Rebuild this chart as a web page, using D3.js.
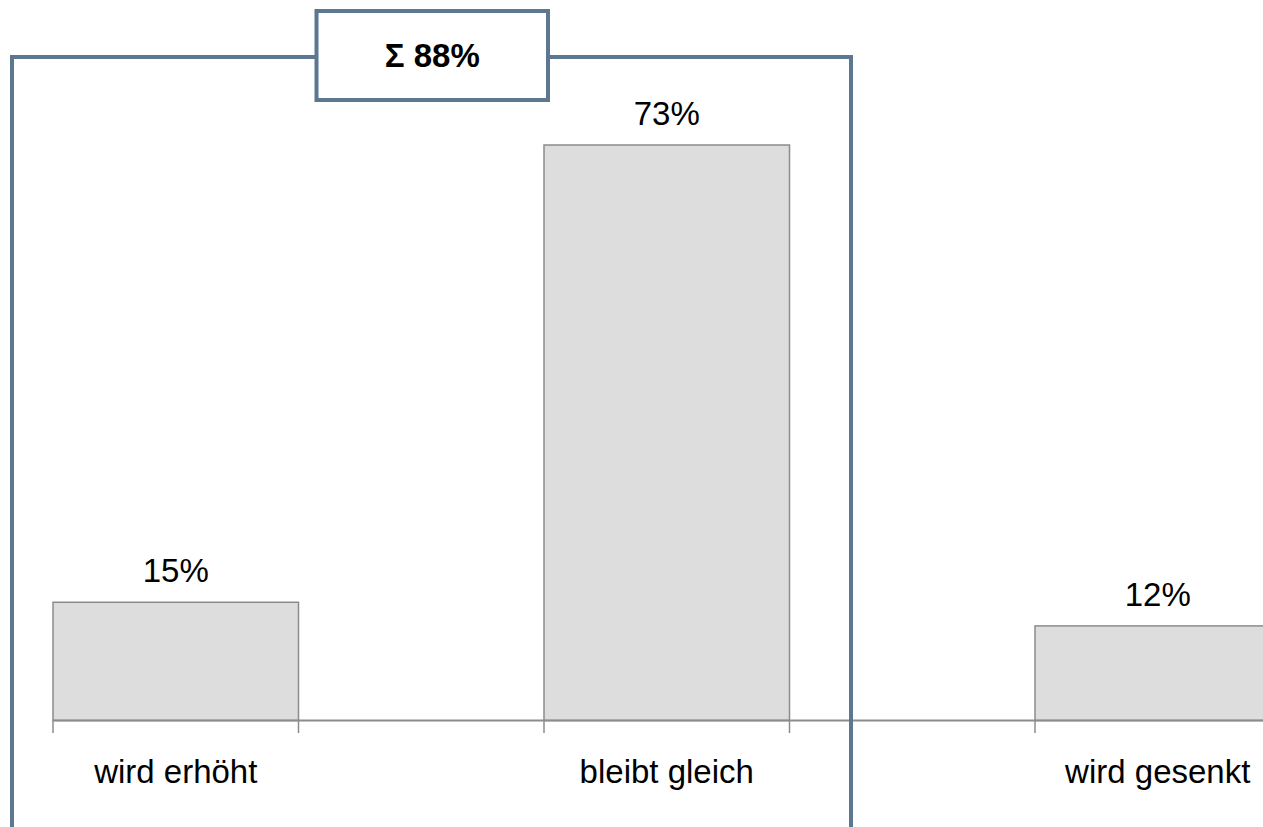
<!DOCTYPE html>
<html>
<head>
<meta charset="utf-8">
<script src="https://cdn.jsdelivr.net/npm/d3@7"></script>
<style>
  html, body { margin: 0; padding: 0; background: #fff; overflow: hidden; }
  svg { display: block; }
  text { font-family: "Liberation Sans", Arial, sans-serif; fill: #000; }
</style>
</head>
<body>
<svg id="chart" width="1263" height="827"></svg>
<script>
const categories = ["wird erhöht", "bleibt gleich", "wird gesenkt"];
const values = [15, 73, 12];
const valueLabels = ["15%", "73%", "12%"];
const sumLabel = "Σ 88%";

const svg = d3.select("#chart");
const W = 1263, H = 827;
const baseY = 720.5;

const x = d3.scaleBand()
  .domain(categories)
  .range([-69.75, 1403.25])
  .paddingInner(0.5)
  .paddingOuter(0.25);

const y = d3.scaleLinear()
  .domain([0, d3.max(values)])
  .range([baseY, 145]);

const g = svg.append("g");

// bars
g.selectAll("rect.bar")
  .data(categories)
  .join("rect")
  .attr("class", "bar")
  .attr("x", d => x(d))
  .attr("y", (d, i) => y(values[i]))
  .attr("width", x.bandwidth())
  .attr("height", (d, i) => y(0) - y(values[i]))
  .attr("fill", "#dddddd")
  .attr("stroke", "#8c8c8c")
  .attr("stroke-width", 1.5);

// axis line
const first = categories[0], last = categories[categories.length - 1];
g.append("line")
  .attr("x1", x(first)).attr("x2", x(last) + x.bandwidth())
  .attr("y1", y(0)).attr("y2", y(0))
  .attr("stroke", "#8c8c8c").attr("stroke-width", 2);

// ticks at bar edges
const tickXs = [];
categories.forEach(c => { tickXs.push(x(c)); tickXs.push(x(c) + x.bandwidth()); });
g.selectAll("line.tick")
  .data(tickXs)
  .join("line")
  .attr("class", "tick")
  .attr("x1", d => d).attr("x2", d => d)
  .attr("y1", y(0)).attr("y2", y(0) + 12.5)
  .attr("stroke", "#8c8c8c").attr("stroke-width", 1.5);

// value labels
g.selectAll("text.val")
  .data(categories)
  .join("text")
  .attr("class", "val")
  .attr("x", d => x(d) + x.bandwidth() / 2)
  .attr("y", (d, i) => y(values[i]) - 20)
  .attr("text-anchor", "middle")
  .attr("font-size", 33)
  .text((d, i) => valueLabels[i]);

// category labels
g.selectAll("text.cat")
  .data(categories)
  .join("text")
  .attr("class", "cat")
  .attr("x", d => x(d) + x.bandwidth() / 2)
  .attr("y", y(0) + 62)
  .attr("text-anchor", "middle")
  .attr("font-size", 33)
  .text(d => d);

// bracket
const col = "#5b7791";
const bx0 = 12, bx1 = 851, by = 57;
const boxX = 316.5, boxY = 11, boxW = 231.5, boxH = 89;
const br = svg.append("g").attr("fill", "none").attr("stroke", col).attr("stroke-width", 4);
br.append("path").attr("d", `M${bx0},${H + 5}V${by}H${boxX}`);
br.append("path").attr("d", `M${boxX + boxW},${by}H${bx1}V${H + 5}`);
br.append("rect")
  .attr("x", boxX).attr("y", boxY).attr("width", boxW).attr("height", boxH)
  .attr("fill", "#fff");
svg.append("text")
  .attr("x", boxX + boxW / 2)
  .attr("y", 67)
  .attr("text-anchor", "middle")
  .attr("font-size", 33)
  .attr("font-weight", "bold")
  .text(sumLabel);
</script>
</body>
</html>
